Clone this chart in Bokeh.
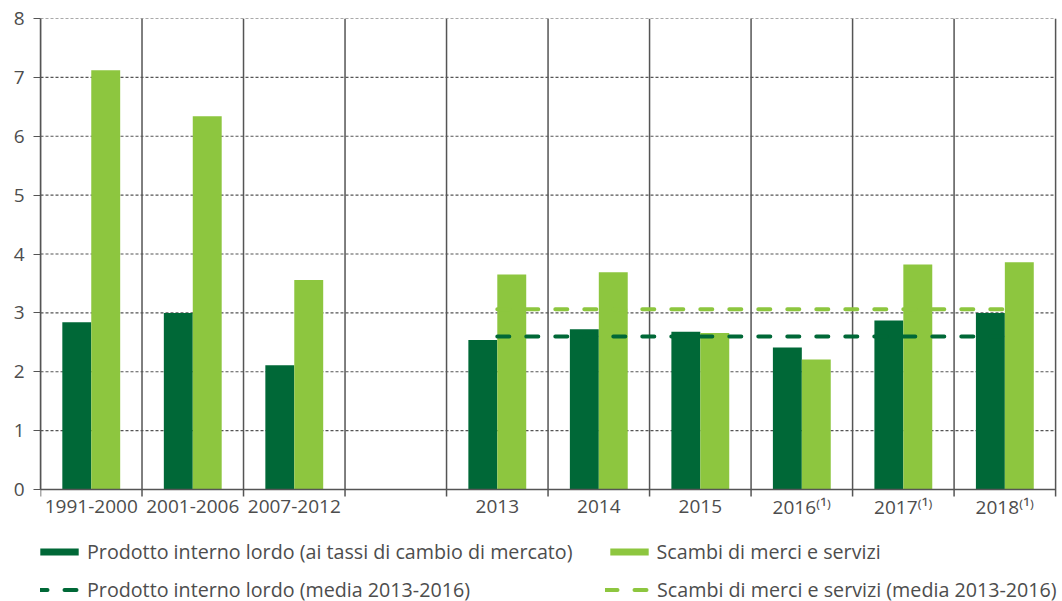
from bokeh.plotting import figure
from bokeh.models import Range1d, FixedTicker, Legend, LegendItem, ColumnDataSource, Span
from bokeh.core.properties import value
from bokeh.embed import file_html
from bokeh.resources import INLINE

# ---- data ----
categories = ["1991-2000", "2001-2006", "2007-2012", "", "2013", "2014", "2015",
              "2016\u207d\u00b9\u207e", "2017\u207d\u00b9\u207e", "2018\u207d\u00b9\u207e"]
pil = [2.84, 3.0, 2.11, float("nan"), 2.54, 2.72, 2.68, 2.41, 2.87, 3.0]
scambi = [7.12, 6.34, 3.56, float("nan"), 3.65, 3.69, 2.66, 2.21, 3.82, 3.86]
pil_media = 2.6
scambi_media = 3.06
media_from, media_to = "2013", "2018\u207d\u00b9\u207e"
y_ticks = [0, 1, 2, 3, 4, 5, 6, 7, 8]

labels = {
    "pil": "Prodotto interno lordo (ai tassi di cambio di mercato)",
    "scambi": "Scambi di merci e servizi",
    "pil_media": "Prodotto interno lordo (media 2013-2016)",
    "scambi_media": "Scambi di merci e servizi (media 2013-2016)",
}

DARK = "#006837"
LIGHT = "#8DC63F"
TEXT = "#4D4D4D"
LINE = "#555555"
FONT = "Open Sans"

n = len(categories)
centers = [i + 0.5 for i in range(n)]
bounds_x = list(range(0, n + 1))
bw = 0.285

# frame geometry: the frame reaches the bottom/right of the page, the zero line sits inside it
W, H = 1062, 601
TOP, LEFT = 18, 40
y_min = -1.902
x_max = n + 0.068
px_per_unit = (H - TOP) / (y_ticks[-1] - y_min)
tick_len = 7 / px_per_unit

src = ColumnDataSource(dict(
    x_pil=[c - bw / 2 for c in centers],
    x_sc=[c + bw / 2 for c in centers],
    pil=pil, scambi=scambi,
))

p = figure(width=W, height=H, x_range=Range1d(0, x_max), y_range=Range1d(y_min, y_ticks[-1]),
           output_backend="svg", toolbar_location=None, x_axis_location=None,
           min_border_left=LEFT, min_border_top=TOP, min_border_right=0, min_border_bottom=0)
p.outline_line_color = None
p.background_fill_color = "white"
p.xgrid.visible = False
p.ygrid.visible = False

# horizontal dotted grid lines, limited to the category area
p.segment(x0=[0] * len(y_ticks), x1=[n] * len(y_ticks), y0=y_ticks, y1=y_ticks,
          line_color=LINE, line_width=1.2, line_dash="3 2")

# category separators (with their tick marks below the zero line)
p.segment(x0=bounds_x, y0=[-tick_len] * len(bounds_x), x1=bounds_x,
          y1=[y_ticks[-1]] * len(bounds_x), line_color=LINE, line_width=1.5)

# bars
r_pil = p.vbar(x="x_pil", top="pil", width=bw, bottom=0, source=src,
               fill_color=DARK, line_color=None)
r_sc = p.vbar(x="x_sc", top="scambi", width=bw, bottom=0, source=src,
              fill_color=LIGHT, line_color=None)

# averages
i0 = categories.index(media_from)
i1 = categories.index(media_to)
xs = [centers[i0], centers[i1]]
r_pm = p.line(xs, [pil_media, pil_media], line_color=DARK, line_width=4,
              line_dash="12 17", line_cap="round")
r_sm = p.line(xs, [scambi_media, scambi_media], line_color=LIGHT, line_width=4,
              line_dash="12 17", line_cap="round")

# x axis line and category labels
p.segment(x0=[0], x1=[n], y0=[0], y1=[0], line_color=LINE, line_width=1.5)
p.text(x=centers, y=[0] * n, text=categories, y_offset=17,
       text_align="center", text_baseline="alphabetic",
       text_font=value(FONT), text_font_size="19px", text_color=TEXT)

# y axis
ya = p.yaxis[0]
ya.ticker = FixedTicker(ticks=y_ticks)
ya.bounds = (0, y_ticks[-1])
ya.axis_line_color = LINE
ya.axis_line_width = 1.5
ya.major_tick_line_color = LINE
ya.major_tick_line_width = 1.2
ya.major_tick_out = 7
ya.major_tick_in = 0
ya.minor_tick_line_color = None
ya.major_label_standoff = 9
ya.major_label_text_font = FONT
ya.major_label_text_font_size = "19px"
ya.major_label_text_color = TEXT


def make_legend(items, spacing, loc):
    lg = Legend(items=items, orientation="horizontal", location=loc)
    lg.border_line_color = None
    lg.background_fill_alpha = 0
    lg.margin = 0
    lg.padding = 0
    lg.spacing = spacing
    lg.glyph_width = 48
    lg.glyph_height = 9
    lg.label_standoff = 4
    lg.label_text_font = FONT
    lg.label_text_font_size = "19.7px"
    lg.label_text_color = TEXT
    return lg


legend_a = make_legend([
    LegendItem(label=labels["pil"], renderers=[r_pil]),
    LegendItem(label=labels["scambi"], renderers=[r_sc]),
], 32, (-5, 36))
legend_b = make_legend([
    LegendItem(label=labels["pil_media"], renderers=[r_pm]),
    LegendItem(label=labels["scambi_media"], renderers=[r_sm]),
], 135, (-5, -2))
p.add_layout(legend_a)
p.add_layout(legend_b)

open("out.html", "w").write(file_html(p, INLINE))
